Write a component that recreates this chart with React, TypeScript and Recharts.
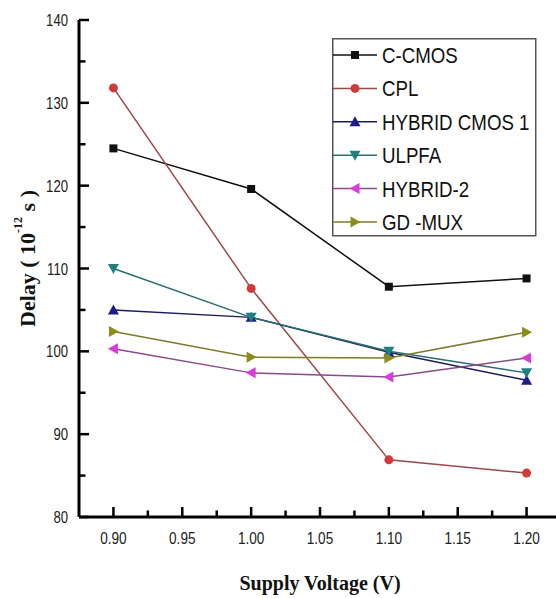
import { LineChart, Line, XAxis, YAxis, Legend, ReferenceLine } from "recharts";

// supply voltage (V) and delay (10^-12 s) per design
const voltage = [0.9, 1.0, 1.1, 1.2];
const cCmos = [124.5, 119.6, 107.8, 108.8];
const cpl = [131.8, 107.6, 86.9, 85.3];
const hybridCmos1 = [105.0, 104.1, 99.9, 96.5];
const ulpfa = [110.0, 104.1, 100.0, 97.4];
const hybrid2 = [100.3, 97.4, 96.9, 99.2];
const gdMux = [102.4, 99.3, 99.2, 102.3];

const seriesNames = ["C-CMOS", "CPL", "HYBRID CMOS 1", "ULPFA", "HYBRID-2", "GD -MUX"];

const xTicks = [0.9, 0.925, 0.95, 0.975, 1.0, 1.025, 1.05, 1.075, 1.1, 1.125, 1.15, 1.175, 1.2];
const xMajorTicks = [0.9, 0.95, 1.0, 1.05, 1.1, 1.15, 1.2];
const yTicks = [80, 85, 90, 95, 100, 105, 110, 115, 120, 125, 130, 135, 140];
const yMajorTicks = [80, 90, 100, 110, 120, 130, 140];

const xDomain = [0.875, 1.225];
const yDomain = [80, 140];

const data = voltage.map((v, i) => ({
  v,
  cCmos: cCmos[i],
  cpl: cpl[i],
  hybridCmos1: hybridCmos1[i],
  ulpfa: ulpfa[i],
  hybrid2: hybrid2[i],
  gdMux: gdMux[i],
}));

const series = [
  { key: "cCmos", name: seriesNames[0], color: "#111111", line: "#111111", shape: "square" },
  { key: "cpl", name: seriesNames[1], color: "#d03a3a", line: "#9a4a4a", shape: "circle" },
  { key: "hybridCmos1", name: seriesNames[2], color: "#1c1c8a", line: "#1c1c5a", shape: "up" },
  { key: "ulpfa", name: seriesNames[3], color: "#1f8080", line: "#2a6e70", shape: "down" },
  { key: "hybrid2", name: seriesNames[4], color: "#d83cd8", line: "#8a4a8a", shape: "left" },
  { key: "gdMux", name: seriesNames[5], color: "#8c8c1c", line: "#7c7c2c", shape: "right" },
];

const CHART_W = 580;
const CHART_H = 598;
const MARGIN = { top: 20, right: 19, bottom: 31, left: 35 };
const Y_AXIS_W = 44;
const X_AXIS_H = 50;
const PLOT_W = CHART_W - MARGIN.left - MARGIN.right - Y_AXIS_W;
const PLOT_H = CHART_H - MARGIN.top - MARGIN.bottom - X_AXIS_H;
// tick lengths in px, turned into data units so the ticks go through the scales
const xUnit = (xDomain[1] - xDomain[0]) / PLOT_W;
const yUnit = (yDomain[1] - yDomain[0]) / PLOT_H;
const MAJOR_LEN = 10;
const MINOR_LEN = 6.5;

const sansFont = "'Liberation Sans', Arial, sans-serif";
const serifFont = "'Liberation Serif', 'Times New Roman', serif";

function Marker({ cx, cy, shape, color }: any) {
  if (cx == null || cy == null) return null;
  const s = 5.5;
  switch (shape) {
    case "square":
      return <rect x={cx - 4} y={cy - 4} width={8} height={8} fill={color} />;
    case "circle":
      return <circle cx={cx} cy={cy} r={4.5} fill={color} />;
    case "up":
      return <polygon points={`${cx},${cy - s} ${cx - s},${cy + s - 1} ${cx + s},${cy + s - 1}`} fill={color} />;
    case "down":
      return <polygon points={`${cx},${cy + s} ${cx - s},${cy - s + 1} ${cx + s},${cy - s + 1}`} fill={color} />;
    case "left":
      return <polygon points={`${cx - s},${cy} ${cx + s - 1},${cy - s} ${cx + s - 1},${cy + s}`} fill={color} />;
    default:
      return <polygon points={`${cx + s},${cy} ${cx - s + 1},${cy - s} ${cx - s + 1},${cy + s}`} fill={color} />;
  }
}

const renderYTick = (props: any) => {
  const { x, y, payload } = props;
  if (!yMajorTicks.includes(payload.value)) return <g />;
  return (
    <text
      transform={`translate(${x - 11},${y + 6}) scale(0.82,1)`}
      textAnchor="end"
      fontFamily={sansFont}
      fontSize={16}
      fill="#222"
    >
      {payload.value}
    </text>
  );
};

const renderXTick = (props: any) => {
  const { x, y, payload } = props;
  if (!xMajorTicks.some((t) => Math.abs(t - payload.value) < 1e-6)) return <g />;
  return (
    <text
      transform={`translate(${x},${y + 27}) scale(0.85,1)`}
      textAnchor="middle"
      fontFamily={sansFont}
      fontSize={16}
      fill="#222"
    >
      {payload.value.toFixed(2)}
    </text>
  );
};

function LegendBox() {
  return (
    <svg width={205} height={199} style={{ display: "block" }}>
      <rect x={0.75} y={0.75} width={203} height={197} fill="#fff" stroke="#555" strokeWidth={1.5} />
      {series.map((s, i) => {
        const y = 17 + i * 33.4;
        return (
          <g key={s.key}>
            <line x1={1} x2={45} y1={y} y2={y} stroke={s.line} strokeWidth={1.5} />
            <Marker cx={23} cy={y} shape={s.shape} color={s.color} />
            <text
              transform={`translate(50,${y + 8}) scale(0.85,1)`}
              fontFamily={sansFont}
              fontSize={22}
              fill="#111"
            >
              {s.name}
            </text>
          </g>
        );
      })}
    </svg>
  );
}

function App() {
  return (
    <div
      style={{
        position: "absolute",
        left: 0,
        top: 0,
        width: 556,
        height: 598,
        overflow: "hidden",
        background: "#fff",
      }}
    >
      <LineChart width={CHART_W} height={CHART_H} data={data} margin={MARGIN}>
        <XAxis
          dataKey="v"
          type="number"
          domain={xDomain}
          ticks={xTicks}
          interval={0}
          height={X_AXIS_H}
          tickSize={0}
          tickMargin={0}
          tickLine={false}
          tick={renderXTick}
          axisLine={{ stroke: "#000", strokeWidth: 3 }}
          label={{
            content: (p: any) => {
              const vb = p.viewBox;
              return (
                <text
                  x={vb.x + vb.width / 2}
                  y={vb.y + 73}
                  textAnchor="middle"
                  fontFamily={serifFont}
                  fontWeight="bold"
                  fontSize={20}
                  fill="#111"
                >
                  Supply Voltage (V)
                </text>
              );
            },
          }}
        />
        <XAxis
          xAxisId="top"
          orientation="top"
          type="number"
          domain={xDomain}
          height={0}
          tick={false}
          tickLine={false}
          axisLine={{ stroke: "#000", strokeWidth: 2 }}
        />
        <YAxis
          type="number"
          domain={yDomain}
          ticks={yTicks}
          interval={0}
          width={Y_AXIS_W}
          tickSize={0}
          tickMargin={0}
          tickLine={false}
          tick={renderYTick}
          axisLine={{ stroke: "#000", strokeWidth: 3 }}
          label={{
            content: (p: any) => {
              const vb = p.viewBox;
              const cx = vb.x - 8;
              const cy = vb.y + vb.height / 2 - 10;
              return (
                <text
                  transform={`translate(${cx},${cy}) rotate(-90)`}
                  textAnchor="middle"
                  dominantBaseline="central"
                  fontFamily={serifFont}
                  fontWeight="bold"
                  fontSize={22}
                  fill="#111"
                >
                  Delay ( 10
                  <tspan fontSize={12} dy={-9}>
                    -12
                  </tspan>
                  <tspan dy={9}> s )</tspan>
                </text>
              );
            },
          }}
        />
        {/* inward tick marks */}
        {yTicks.map((t) => {
          const len = yMajorTicks.includes(t) ? MAJOR_LEN : MINOR_LEN;
          return (
            <ReferenceLine
              key={`yt-${t}`}
              segment={[
                { x: xDomain[0], y: t },
                { x: xDomain[0] + len * xUnit, y: t },
              ]}
              stroke="#000"
              strokeWidth={2.5}
              ifOverflow="visible"
            />
          );
        })}
        {xTicks.map((t) => {
          const major = xMajorTicks.some((m) => Math.abs(m - t) < 1e-6);
          const len = major ? MAJOR_LEN : MINOR_LEN;
          return (
            <ReferenceLine
              key={`xt-${t}`}
              segment={[
                { x: t, y: yDomain[0] },
                { x: t, y: yDomain[0] + len * yUnit },
              ]}
              stroke="#000"
              strokeWidth={2.5}
              ifOverflow="visible"
            />
          );
        })}
        <Legend
          layout="vertical"
          align="center"
          verticalAlign="middle"
          content={<LegendBox />}
          wrapperStyle={{ left: 332, top: 38, width: 205, height: 199 }}
        />
        {series.map((s) => (
          <Line
            key={s.key}
            dataKey={s.key}
            name={s.name}
            stroke={s.line}
            strokeWidth={1.5}
            isAnimationActive={false}
            dot={(p: any) => (
              <Marker key={`${s.key}-${p.index}`} cx={p.cx} cy={p.cy} shape={s.shape} color={s.color} />
            )}
            activeDot={false}
          />
        ))}
      </LineChart>
    </div>
  );
}

export default App;
